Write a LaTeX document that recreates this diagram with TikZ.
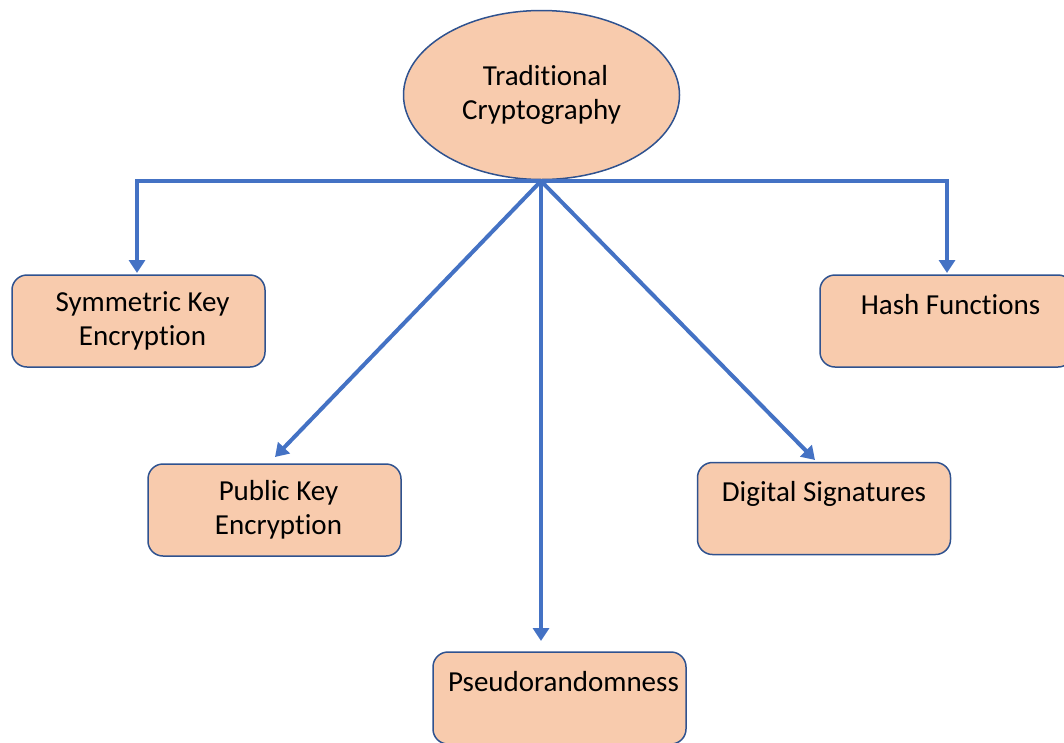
\documentclass[tikz,border=0pt]{standalone}
\usepackage{fontspec}
\setmainfont[Ligatures={NoCommon}]{Carlito}
\usetikzlibrary{shapes.geometric,arrows.meta}
\definecolor{peach}{HTML}{F8CBAD}
\definecolor{edge}{HTML}{2F528F}
\definecolor{arrowblue}{HTML}{4472C4}
\begin{document}
\begin{tikzpicture}[x=1pt,y=-1pt,
  box/.style={draw=edge,line width=1.5pt,fill=peach,rounded corners=15pt,
    minimum width=253pt,minimum height=92pt,align=center,inner sep=0pt,
    font=\fontsize{29}{34}\selectfont},
  root/.style={ellipse,draw=edge,line width=1.5pt,fill=peach,
    minimum width=276pt,minimum height=169pt,align=center,inner sep=0pt,
    font=\fontsize{29}{34}\selectfont},
  conn/.style={draw=arrowblue,line width=4pt,
    -{Triangle[width=16pt,length=13pt]}}]
\useasboundingbox (0,0) rectangle (1064,742);
\node[root] (top) at (541.5,95) {\hspace*{8pt}Traditional\\Cryptography};
\node[box] (sym) at (138.5,321) {\hspace*{8pt}Symmetric Key\\\hspace*{8pt}Encryption};
\node[box] (hash) at (946.5,321) {\hspace*{8pt}Hash Functions\\\mbox{}};
\node[box] (pub) at (274.5,510) {\hspace*{8pt}Public Key\\\hspace*{8pt}Encryption};
\node[box] (dig) at (824,508.5) {Digital Signatures\\\mbox{}};
\node[box] (pse) at (559.5,698) {\hspace*{8pt}Pseudorandomness\\\mbox{}};
\coordinate (hub) at (541,181);
\coordinate (symtip) at (137,273);
\coordinate (hashtip) at (947,273);
\coordinate (pubtip) at (275,457);
\coordinate (digtip) at (815,460);
\coordinate (psetip) at (541,641);
\draw[conn] (hub) -| (symtip);
\draw[conn] (hub) -| (hashtip);
\draw[conn] (hub) -- (pubtip);
\draw[conn] (hub) -- (digtip);
\draw[conn] (hub) -- (psetip);
\end{tikzpicture}
\end{document}
